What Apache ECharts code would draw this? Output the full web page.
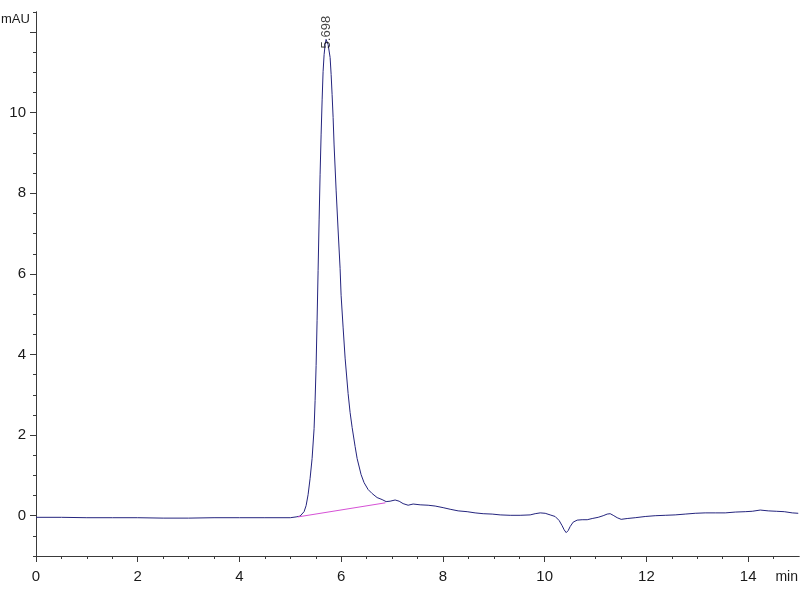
<!DOCTYPE html>
<html>
<head>
<meta charset="utf-8">
<script src="https://cdn.jsdelivr.net/npm/echarts@6/dist/echarts.min.js"></script>
<style>html,body{margin:0;padding:0;background:#fff}#chart{width:800px;height:600px}</style>
</head>
<body>
<div id="chart"></div>
<script>
// Chromatogram trace: time (min) and signal (mAU)
const traceTime = [
  0, 0.5, 1, 1.5, 2, 2.5, 3, 3.5, 4, 4.5, 5, 5.113,
  5.192, 5.231, 5.270, 5.310, 5.349, 5.388, 5.428, 5.467, 5.487, 5.507, 5.526, 5.546, 5.566, 5.585, 5.605, 5.625, 5.644, 5.664, 5.684, 5.703, 5.723, 5.743,
  5.782, 5.802, 5.821, 5.841, 5.860, 5.900, 5.939, 5.978, 5.998, 6.037, 6.077, 6.136, 6.175, 6.215, 6.273, 6.313, 6.391, 6.450, 6.529, 6.608, 6.706, 6.804, 6.883,
  6.962, 7.060, 7.139, 7.217, 7.316, 7.414, 7.552, 7.709, 7.847, 8.004, 8.142, 8.299, 8.476, 8.633, 8.791, 8.968, 9.125, 9.322, 9.518, 9.715, 9.813, 9.912, 10.010,
  10.108, 10.206, 10.285, 10.344, 10.383, 10.423, 10.462, 10.501, 10.560, 10.639, 10.737, 10.836, 10.934, 11.052, 11.150, 11.229, 11.288, 11.347, 11.426, 11.504,
  11.622, 11.780, 11.976, 12.173, 12.370, 12.566, 12.763, 12.960, 13.156, 13.353, 13.550, 13.747, 13.943, 14.081, 14.238, 14.395, 14.553, 14.710, 14.867, 14.985
];
const traceSignal = [
  -0.04, -0.04, -0.05, -0.05, -0.05, -0.06, -0.06, -0.05, -0.05, -0.05, -0.05, -0.03,
  -0.01, 0.02, 0.10, 0.25, 0.52, 0.92, 1.42, 2.16, 2.86, 3.73, 4.85, 6.09, 7.34, 8.46, 9.45, 10.32, 11.02, 11.44, 11.69, 11.82, 11.79, 11.69,
  11.37, 10.95, 10.45, 9.88, 9.20, 8.08, 7.09, 6.14, 5.47, 4.68, 3.91, 3.03, 2.56, 2.19, 1.72, 1.42, 1.02, 0.82, 0.65, 0.55, 0.45, 0.40, 0.35,
  0.36, 0.39, 0.36, 0.30, 0.26, 0.29, 0.27, 0.26, 0.24, 0.20, 0.16, 0.12, 0.10, 0.07, 0.05, 0.04, 0.02, 0.01, 0.01, 0.02, 0.05, 0.07, 0.06,
  0.02, -0.02, -0.12, -0.25, -0.35, -0.42, -0.37, -0.27, -0.16, -0.11, -0.10, -0.10, -0.07, -0.04, 0.00, 0.04, 0.05, 0.01, -0.05, -0.09,
  -0.07, -0.05, -0.02, 0.00, 0.01, 0.02, 0.04, 0.06, 0.07, 0.07, 0.07, 0.09, 0.10, 0.11, 0.14, 0.12, 0.11, 0.10, 0.07, 0.06
];
// Integration baseline of the main peak
const baselineTime = [5.15, 6.87];
const baselineSignal = [-0.03, 0.32];
// Peak annotation
const peakTime = [5.698];
const peakSignal = [11.82];
const peakLabels = ['5.698'];
// Axis ticks and labels
const xMajorTicks = [0, 2, 4, 6, 8, 10, 12, 14];
const xMinorTicks = [0, 0.5, 1, 1.5, 2, 2.5, 3, 3.5, 4, 4.5, 5, 5.5, 6, 6.5, 7, 7.5, 8, 8.5, 9, 9.5, 10, 10.5, 11, 11.5, 12, 12.5, 13, 13.5, 14, 14.5];
const yMajorTicks = [0, 2, 4, 6, 8, 10, 12];
const yLabelTicks = [0, 2, 4, 6, 8, 10];
const yMinorTicks = [-1, -0.5, 0, 0.5, 1, 1.5, 2, 2.5, 3, 3.5, 4, 4.5, 5, 5.5, 6, 6.5, 7, 7.5, 8, 8.5, 9, 9.5, 10, 10.5, 11, 11.5, 12, 12.5];
const xUnit = 'min';
const yUnit = 'mAU';

const FONT = '"Liberation Sans Narrow", "Liberation Sans", Arial, sans-serif';
const AXIS_COLOR = '#3a3a3a';
const X_MIN = 0, X_MAX = 15, Y_MIN = -1, Y_MAX = 12.5;

const chart = echarts.init(document.getElementById('chart'), null, {renderer: 'canvas'});

const baseX = {
  type: 'value', min: X_MIN, max: X_MAX, position: 'bottom',
  axisLine: {show: true, onZero: false, lineStyle: {color: AXIS_COLOR, width: 1}},
  splitLine: {show: false}
};
const baseY = {
  type: 'value', min: Y_MIN, max: Y_MAX, position: 'left',
  axisLine: {show: true, onZero: false, lineStyle: {color: AXIS_COLOR, width: 1}},
  splitLine: {show: false}
};

chart.setOption({
  animation: false,
  backgroundColor: '#ffffff',
  grid: {left: 36, right: 1, top: 12, bottom: 44, containLabel: false},
  xAxis: [
    Object.assign({}, baseX, {
      axisTick: {show: true, length: 6, customValues: xMajorTicks, lineStyle: {color: AXIS_COLOR}},
      axisLabel: {show: true, customValues: xMajorTicks, margin: 13, color: '#1a1a1a', fontSize: 15, fontFamily: FONT}
    }),
    Object.assign({}, baseX, {
      axisTick: {show: true, length: 3, customValues: xMinorTicks, lineStyle: {color: AXIS_COLOR}},
      axisLabel: {show: false}
    })
  ],
  yAxis: [
    Object.assign({}, baseY, {
      axisTick: {show: true, length: 6, customValues: yMajorTicks, lineStyle: {color: AXIS_COLOR}},
      axisLabel: {show: true, customValues: yLabelTicks, margin: 10, color: '#1a1a1a', fontSize: 15, fontFamily: FONT}
    }),
    Object.assign({}, baseY, {
      axisTick: {show: true, length: 3, customValues: yMinorTicks, lineStyle: {color: AXIS_COLOR}},
      axisLabel: {show: false}
    })
  ],
  graphic: [
    {type: 'text', left: 1, top: 13, style: {text: yUnit, fill: '#1a1a1a', font: '13px ' + FONT}},
    {type: 'text', right: 2, top: 570, style: {text: xUnit, fill: '#1a1a1a', font: '14px ' + FONT}}
  ],
  series: [
    {
      name: 'trace', type: 'line', xAxisIndex: 0, yAxisIndex: 0,
      data: traceTime.map((t, i) => [t, traceSignal[i]]),
      showSymbol: false, symbol: 'none', smooth: false,
      lineStyle: {color: '#24247e', width: 1},
      z: 2
    },
    {
      name: 'baseline', type: 'line', xAxisIndex: 0, yAxisIndex: 0,
      data: baselineTime.map((t, i) => [t, baselineSignal[i]]),
      showSymbol: false, symbol: 'none',
      lineStyle: {color: '#d651d6', width: 1},
      z: 3
    },
    {
      name: 'peak', type: 'scatter', xAxisIndex: 0, yAxisIndex: 0,
      data: peakTime.map((t, i) => ({value: [t, peakSignal[i]], name: peakLabels[i]})),
      symbolSize: 2,
      itemStyle: {color: 'rgba(0,0,0,0)'},
      label: {
        show: true, formatter: '{b}', rotate: 90, position: [2, 10],
        align: 'left', verticalAlign: 'middle',
        color: '#111111', fontSize: 13, fontFamily: FONT
      },
      z: 4
    }
  ]
});
</script>
</body>
</html>
